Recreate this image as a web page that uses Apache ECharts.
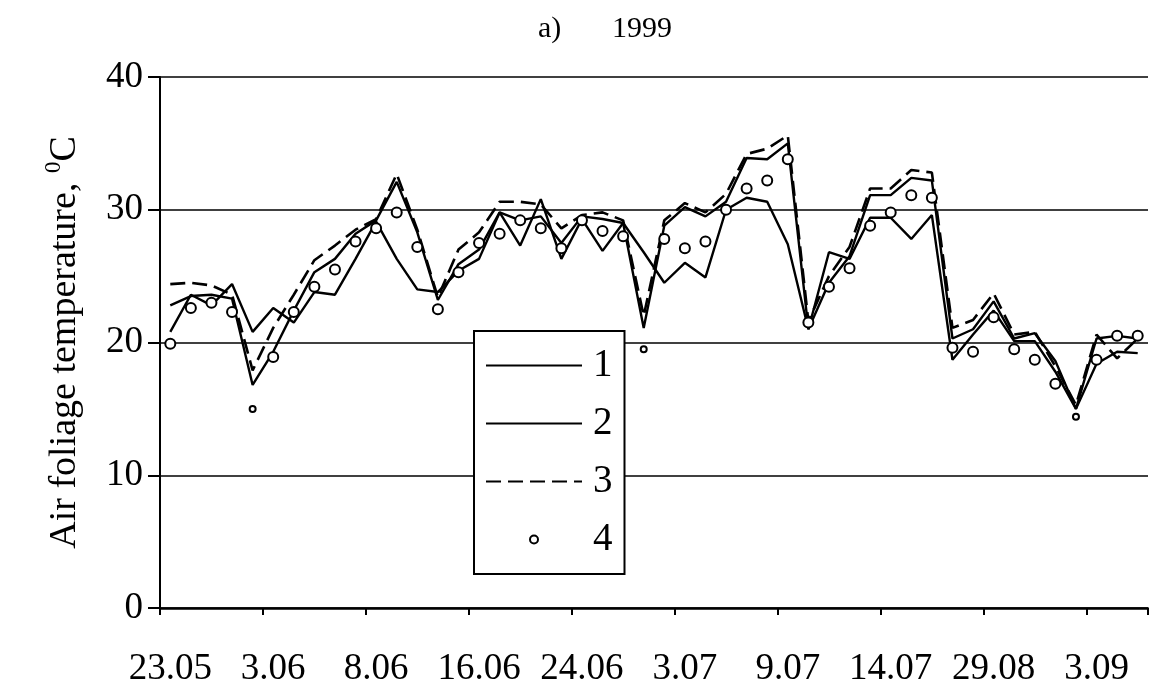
<!DOCTYPE html>
<html><head><meta charset="utf-8">
<script src="https://cdn.jsdelivr.net/npm/echarts@6/dist/echarts.min.js"></script>
<style>html,body{margin:0;padding:0;background:#fff}#c{width:1149px;height:691px}</style>
</head><body><div id="c"></div>
<script>
// observation index (48 measurement days)
const categories = ['1','2','3','4','5','6','7','8','9','10','11','12','13','14','15','16',
  '17','18','19','20','21','22','23','24','25','26','27','28','29','30','31','32',
  '33','34','35','36','37','38','39','40','41','42','43','44','45','46','47','48'];
// labels shown every 5th observation
const tickLabels = ['23.05','3.06','8.06','16.06','24.06','3.07','9.07','14.07','29.08','3.09'];

const series1 = [20.8,23.6,22.8,24.4,20.8,22.6,21.5,23.8,23.6,26.3,
  29.1,26.3,24.0,23.8,25.4,26.3,29.8,27.3,30.8,26.3,
  29.3,26.9,29.0,26.8,24.5,26.0,24.9,30.0,30.9,30.6,
  27.4,21.0,26.8,26.3,29.4,29.4,27.8,29.6,18.7,20.6,
  22.4,20.1,20.1,17.8,15.0,18.4,19.3,19.2];
const series2 = [22.8,23.5,23.6,23.3,16.8,19.3,22.4,25.3,26.3,28.2,
  29.2,32.1,28.3,23.2,25.9,27.0,29.8,29.2,29.5,27.5,
  29.5,29.3,29.0,21.1,28.8,30.2,29.5,30.6,33.9,33.8,
  35.0,21.0,24.5,26.5,31.1,31.1,32.4,32.2,20.3,21.0,
  23.1,20.3,20.7,18.6,15.0,20.3,20.5,20.3];
const series3 = [24.4,24.5,24.3,23.6,17.9,21.1,23.6,26.2,27.3,28.5,
  29.3,32.7,28.5,23.4,27.0,28.3,30.6,30.6,30.4,28.6,
  29.6,29.8,29.2,22.0,29.2,30.5,29.8,31.2,34.2,34.6,
  35.6,21.6,25.0,27.2,31.6,31.6,33.0,32.8,21.1,21.7,
  23.7,20.6,20.8,18.2,15.3,20.6,18.8,20.3];
const series4 = [19.9,22.6,23.0,22.3,15.0,18.9,22.3,24.2,25.5,27.6,
  28.6,29.8,27.2,22.5,25.3,27.5,28.2,29.2,28.6,27.1,
  29.2,28.4,28.0,19.5,27.8,27.1,27.6,30.0,31.6,32.2,
  33.8,21.5,24.2,25.6,28.8,29.8,31.1,30.9,19.6,19.3,
  21.9,19.5,18.7,16.9,14.4,18.7,20.5,20.5];
// points drawn with a smaller marker in the original
const smallMarkers = [4, 23, 44];

const FONT = 'Liberation Serif';
const chart = echarts.init(document.getElementById('c'), null, {renderer:'canvas'});
chart.setOption({
  animation: false,
  backgroundColor: '#fff',
  title: [
    {text: 'a)', left: 533, top: 9, textStyle: {fontFamily: FONT, fontSize: 30, fontWeight: 'normal', color: '#000'}},
    {text: '1999', left: 607, top: 9, textStyle: {fontFamily: FONT, fontSize: 30, fontWeight: 'normal', color: '#000'}}
  ],
  grid: {left: 160, right: 1, top: 77, bottom: 83, containLabel: false, outerBoundsMode: 'none'},
  legend: {
    orient: 'vertical', left: 474, top: 331,
    padding: [15, 12, 15, 11], itemWidth: 96, itemHeight: 10, itemGap: 19,
    backgroundColor: '#fff', borderColor: '#000', borderWidth: 2, borderRadius: 0,
    textStyle: {fontFamily: FONT, fontSize: 39, color: '#000', padding: [0, 0, 0, 6]},
    data: [
      {name: '1', itemStyle: {opacity: 0}},
      {name: '2', itemStyle: {opacity: 0}},
      {name: '3', itemStyle: {opacity: 0}},
      {name: '4', lineStyle: {opacity: 0}}
    ]
  },
  xAxis: {
    type: 'category', data: categories, boundaryGap: true,
    axisLine: {show: true, lineStyle: {color: '#000', width: 2.5}},
    axisTick: {show: true, interval: 4, length: 7, lineStyle: {color: '#000', width: 2}},
    axisLabel: {interval: 4, margin: 43, fontFamily: FONT, fontSize: 37, color: '#000',
      formatter: (v, i) => tickLabels[i / 5] || ''},
    splitLine: {show: false}
  },
  yAxis: {
    type: 'value', min: 0, max: 40, interval: 10,
    name: '{t|Air foliage temperature, }{s|0}{t|C}',
    nameLocation: 'middle', nameRotate: 90, nameGap: 72,
    nameTextStyle: {fontFamily: FONT, fontSize: 38, color: '#000',
      rich: {t: {fontFamily: FONT, fontSize: 38, color: '#000', lineHeight: 46},
             s: {fontFamily: FONT, fontSize: 23, color: '#000', verticalAlign: 'top', lineHeight: 46}}},
    axisLine: {show: true, lineStyle: {color: '#000', width: 2}},
    axisTick: {show: true, length: 12, lineStyle: {color: '#000', width: 2}},
    axisLabel: {margin: 17, fontFamily: FONT, fontSize: 37, color: '#000'},
    splitLine: {show: true, lineStyle: {color: '#000', width: 1.5}}
  },
  series: [
    {name: '1', type: 'line', data: series1, symbol: 'none', z: 3,
     itemStyle: {color: '#000'}, lineStyle: {color: '#000', width: 2.4}},
    {name: '2', type: 'line', data: series2, symbol: 'none', z: 3,
     itemStyle: {color: '#000'}, lineStyle: {color: '#000', width: 2.4}},
    {name: '3', type: 'line', data: series3, symbol: 'none', z: 3,
     itemStyle: {color: '#000'}, lineStyle: {color: '#000', width: 2.6, type: [15, 7]}},
    {name: '4', type: 'line', data: series4, symbol: 'emptyCircle', z: 4,
     symbolSize: (v, p) => smallMarkers.includes(p.dataIndex) ? 6 : 10,
     lineStyle: {width: 0, opacity: 0},
     itemStyle: {color: '#000', borderColor: '#000', borderWidth: 2.5}}
  ]
});
</script></body></html>
